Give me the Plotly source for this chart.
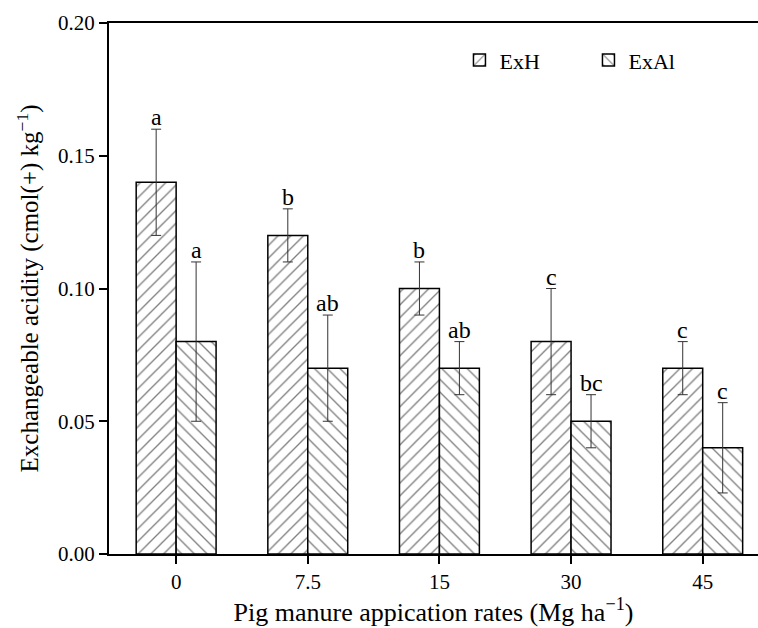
import plotly.graph_objects as go

categories = ["0", "7.5", "15", "30", "45"]
exh_values = [0.14, 0.12, 0.10, 0.08, 0.07]
exh_errors = [0.02, 0.01, 0.01, 0.02, 0.01]
exh_letters = ["a", "b", "b", "c", "c"]
exal_values = [0.08, 0.07, 0.07, 0.05, 0.04]
exal_errors = [0.03, 0.02, 0.01, 0.01, 0.017]
exal_letters = ["a", "ab", "ab", "bc", "c"]
y_ticks = [0.00, 0.05, 0.10, 0.15, 0.20]

FONT = "Liberation Serif, Times New Roman, serif"
BARGAP = 0.393
x_idx = list(range(len(categories)))

fig = go.Figure()
fig.add_trace(go.Bar(
    x=x_idx, y=exh_values, name="ExH",
    marker=dict(color="white", line=dict(color="black", width=1.5),
                pattern=dict(shape="/", size=9, solidity=0.15, fgcolor="black", bgcolor="white")),
    error_y=dict(type="data", array=exh_errors, visible=True, color="#333333", thickness=1, width=5),
))
fig.add_trace(go.Bar(
    x=x_idx, y=exal_values, name="ExAl",
    marker=dict(color="white", line=dict(color="black", width=1.5),
                pattern=dict(shape="\\", size=9, solidity=0.15, fgcolor="black", bgcolor="white")),
    error_y=dict(type="data", array=exal_errors, visible=True, color="#333333", thickness=1, width=5),
))

off = (1 - BARGAP) / 4
annos = []
for i in x_idx:
    annos.append(dict(x=i - off, y=exh_values[i] + exh_errors[i], text=exh_letters[i],
                      showarrow=False, yanchor="bottom", yshift=-3,
                      font=dict(family=FONT, size=24, color="black")))
    annos.append(dict(x=i + off, y=exal_values[i] + exal_errors[i], text=exal_letters[i],
                      showarrow=False, yanchor="bottom", yshift=-3,
                      font=dict(family=FONT, size=24, color="black")))

fig.update_layout(
    width=758, height=628,
    margin=dict(l=109, r=0, t=23, b=74, autoexpand=False),
    paper_bgcolor="white", plot_bgcolor="white",
    barmode="group", bargap=BARGAP, bargroupgap=0,
    font=dict(family=FONT, size=21, color="black"),
    annotations=annos,
    legend=dict(orientation="h", x=0.54, y=0.93, xanchor="left", yanchor="middle",
                font=dict(family=FONT, size=22), entrywidth=84, entrywidthmode="pixels",
                bgcolor="rgba(0,0,0,0)"),
    xaxis=dict(
        range=[-0.51, 4.42], tickmode="array", tickvals=x_idx, ticktext=categories,
        showline=True, linecolor="black", linewidth=2, mirror=True,
        ticks="outside", ticklen=8, tickwidth=2, tickcolor="black",
        showgrid=False, zeroline=False,
        tickfont=dict(family=FONT, size=21),
        title=dict(text="Pig manure appication rates (Mg ha<sup>\u22121</sup>)",
                   font=dict(family=FONT, size=26), standoff=4),
    ),
    yaxis=dict(
        range=[0, 0.20], tickmode="array", tickvals=y_ticks, tickformat=".2f",
        showline=True, linecolor="black", linewidth=2,
        ticks="outside", ticklen=8, tickwidth=2, tickcolor="black",
        showgrid=False, zeroline=False,
        tickfont=dict(family=FONT, size=21),
        title=dict(text="Exchangeable acidity (cmol(+) kg<sup>\u22121</sup>)",
                   font=dict(family=FONT, size=25), standoff=12),
    ),
)

fig.write_html("out.html")
